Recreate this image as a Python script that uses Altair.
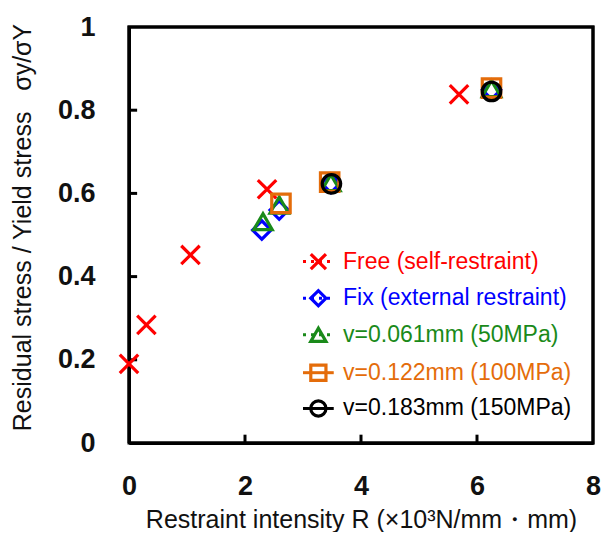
import altair as alt
import pandas as pd

# ---- data ----
series_names = [
    "Free (self-restraint)",
    "Fix (external restraint)",
    "v=0.061mm (50MPa)",
    "v=0.122mm (100MPa)",
    "v=0.183mm (150MPa)",
]
series_colors = ["#FF0000", "#0000FF", "#1A8A1A", "#E46C0A", "#000000"]

free_R = [0.0, 0.30, 1.06, 2.38, 5.69]
free_s = [0.19, 0.284, 0.452, 0.61, 0.838]
fix_R = [2.29, 2.59, 3.48, 6.25]
fix_s = [0.512, 0.560, 0.624, 0.849]
v061_R = [2.31, 2.59, 3.48, 6.25]
v061_s = [0.532, 0.572, 0.626, 0.852]
v122_R = [2.62, 3.46, 6.25]
v122_s = [0.576, 0.627, 0.853]
v183_R = [3.49, 6.25]
v183_s = [0.623, 0.845]

x_ticks = [0, 2, 4, 6, 8]
y_ticks = [0, 0.2, 0.4, 0.6, 0.8, 1]

# legend placement (in data units) and line style
legend_y = [0.436, 0.348, 0.260, 0.169, 0.083]
legend_dotted = [True, True, True, False, False]

x_shape = "M-1,-1L1,1M-1,1L1,-1"
shapes = [x_shape, "diamond", "triangle-up", "square", "circle"]

rows = []
for name, Rs, Ss in zip(series_names,
                        [free_R, fix_R, v061_R, v122_R, v183_R],
                        [free_s, fix_s, v061_s, v122_s, v183_s]):
    for r, s in zip(Rs, Ss):
        rows.append({"series": name, "R": r, "s": s})
df = pd.DataFrame(rows)

leg = pd.DataFrame({
    "series": series_names,
    "ly": legend_y,
    "dotted": legend_dotted,
    "lx0": [3.0] * 5,
    "lx1": [3.53] * 5,
    "lxm": [3.265] * 5,
    "lxt": [3.69] * 5,
})

xscale = alt.Scale(domain=[0, 8], nice=False, zero=False)
yscale = alt.Scale(domain=[0, 1], nice=False, zero=False)
cscale = alt.Scale(domain=series_names, range=series_colors)
sscale = alt.Scale(domain=series_names, range=shapes)

xaxis = alt.Axis(
    values=x_ticks, labelExpr="datum.value", grid=False,
    domain=True, domainColor="#000000", domainWidth=3,
    ticks=False, labelFlush=False,
    labelFont="Liberation Sans", labelFontSize=27, labelFontWeight="bold", labelColor="#111111",
    labelPadding=30,
    title="Restraint intensity R (×10³N/mm・mm)", titleFont="Liberation Sans",
    titleFontSize=25, titleFontWeight="normal", titleColor="#111111",
    titleX=232, titleY=84, titleBaseline="alphabetic", titleAlign="center",
)
yaxis = alt.Axis(
    values=y_ticks, labelExpr="datum.value", grid=False,
    domain=True, domainColor="#000000", domainWidth=3,
    ticks=False, labelFlush=False,
    labelFont="Liberation Sans", labelFontSize=27, labelFontWeight="bold", labelColor="#111111",
    labelPadding=34,
    title="Residual stress / Yield stress\u00a0\u00a0\u00a0σy/σY", titleFont="Liberation Sans",
    titleFontSize=25, titleFontWeight="normal", titleColor="#111111",
    titleX=-99, titleY=200, titleAngle=-90, titleBaseline="alphabetic", titleAlign="center",
)

# plot frame as a closed line through the four corners (through the scales)
frame_df = pd.DataFrame({
    "fx": [0.0, 8.0, 8.0, 0.0, 0.0],
    "fy": [0.0, 0.0, 1.0, 1.0, 0.0],
    "k": [1, 2, 3, 4, 5],
})
frame = alt.Chart(frame_df).mark_line(strokeWidth=3, color="#000000").encode(
    x=alt.X("fx:Q", scale=xscale, axis=xaxis),
    y=alt.Y("fy:Q", scale=yscale, axis=yaxis),
    order="k:Q",
)

# inward tick marks
xt_df = pd.DataFrame({"tx": [2.0, 4.0, 6.0], "ty0": [0.001] * 3, "ty1": [0.02] * 3})
yt_df = pd.DataFrame({"uy": [0.2, 0.4, 0.6, 0.8], "ux0": [0.005] * 4, "ux1": [0.14] * 4})
xtick = alt.Chart(xt_df).mark_rule(strokeWidth=3).encode(
    x="tx:Q", y="ty0:Q", y2="ty1:Q", color=alt.value("#000000"))
ytick = alt.Chart(yt_df).mark_rule(strokeWidth=3).encode(
    y="uy:Q", x="ux0:Q", x2="ux1:Q", color=alt.value("#000000"))

points = alt.Chart(df).mark_point(filled=False, strokeWidth=3.2, opacity=1).encode(
    x=alt.X("R:Q", scale=xscale, axis=xaxis),
    y=alt.Y("s:Q", scale=yscale, axis=yaxis),
    color=alt.Color("series:N", scale=cscale, legend=None),
    shape=alt.Shape("series:N", scale=sscale, legend=None),
    size=alt.value(340),
)

# manual legend: dotted and solid sample lines, symbols and coloured labels
leg_dot = alt.Chart(leg).transform_filter("datum.dotted").mark_rule(
    strokeWidth=3, strokeDash=[3, 5]).encode(
    x="lx0:Q", x2="lx1:Q", y="ly:Q",
    color=alt.Color("series:N", scale=cscale, legend=None),
)
leg_solid = alt.Chart(leg).transform_filter("!datum.dotted").mark_rule(
    strokeWidth=3).encode(
    x="lx0:Q", x2="lx1:Q", y="ly:Q",
    color=alt.Color("series:N", scale=cscale, legend=None),
)
leg_pts = alt.Chart(leg).mark_point(filled=False, strokeWidth=3.2, opacity=1).encode(
    x="lxm:Q", y="ly:Q",
    color=alt.Color("series:N", scale=cscale, legend=None),
    shape=alt.Shape("series:N", scale=sscale, legend=None),
    size=alt.value(230),
)
leg_txt = alt.Chart(leg).mark_text(align="left", baseline="middle", font="Liberation Sans", fontSize=23).encode(
    x="lxt:Q", y="ly:Q", text="series:N",
    color=alt.Color("series:N", scale=cscale, legend=None),
)

chart = alt.layer(frame, xtick, ytick, points, leg_dot, leg_solid, leg_pts, leg_txt).properties(
    width=464, height=416,
    padding={"left": 1, "top": 5, "right": 0, "bottom": 0},
).configure_view(stroke="#000000", strokeWidth=3)

chart.save("out.html", embed_options={"renderer": "svg", "actions": False})
